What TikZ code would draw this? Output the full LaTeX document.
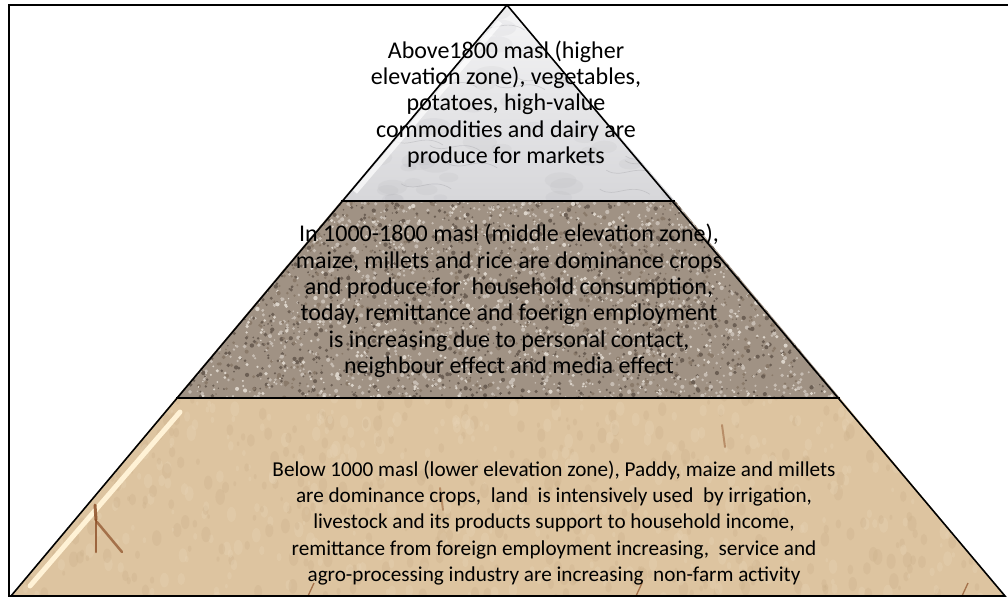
\documentclass[tikz,border=0pt]{standalone}
\usepackage{fontspec}
\setmainfont{Carlito}
\definecolor{marbleA}{RGB}{246,246,247}
\definecolor{marbleB}{RGB}{214,214,217}
\definecolor{marbleC}{RGB}{150,150,155}
\definecolor{gravelBase}{RGB}{160,146,132}
\definecolor{gravA}{RGB}{108,95,84}
\definecolor{gravB}{RGB}{198,188,178}
\definecolor{gravC}{RGB}{138,122,106}
\definecolor{gravD}{RGB}{220,212,202}
\definecolor{sandBase}{RGB}{221,196,160}
\definecolor{sandA}{RGB}{205,178,140}
\definecolor{sandB}{RGB}{232,212,182}
\definecolor{sandMark}{RGB}{140,78,38}
\definecolor{sandLight}{RGB}{255,242,214}
\pgfmathdeclarerandomlist{gravel}{{gravA}{gravB}{gravC}{gravD}{gravA}{gravB}}
\pgfmathdeclarerandomlist{sand}{{sandA}{sandB}}
\begin{document}
\begin{tikzpicture}[x=1pt,y=-1pt,
  tiertext/.style={align=center, font=\fontsize{24}{26.4}\selectfont, text=black, inner sep=0pt},
  basetext/.style={tiertext, font=\fontsize{21.2}{26.3}\selectfont},
  edge/.style={line width=1.6pt, black},
  frame/.style={line width=2.4pt, black}]
\useasboundingbox (0,0) rectangle (1008,598);
\pgfmathsetseed{7}
% corner points of the pyramid and the two tier boundaries
\coordinate (apex) at (507,5);
\coordinate (bl) at (11,596);
\coordinate (br) at (1005,596);
\coordinate (ml1) at (341,201);
\coordinate (mr1) at (675,201);
\coordinate (ml2) at (176,398);
\coordinate (mr2) at (840,398);

% top tier: marble
\begin{scope}
  \clip (apex) -- (mr1) -- (ml1) -- cycle;
  \shade[top color=marbleA, bottom color=marbleB] (330,0) rectangle (690,205);
  \foreach \i in {1,...,90}{
    \pgfmathsetmacro\px{rnd*360+330}
    \pgfmathsetmacro\py{rnd*200+5}
    \pgfmathsetmacro\rr{rnd*6+3}
    \fill[marbleC, opacity=0.08] (\px,\py) ellipse ({\rr*2} and \rr);
  }
  \foreach \i in {1,...,22}{
    \pgfmathsetmacro\px{rnd*320+340}
    \pgfmathsetmacro\py{rnd*185+15}
    \draw[marbleC, opacity=0.3, line width=0.7pt]
      (\px,\py) .. controls ({\px+15},{\py+10}) and ({\px+30},{\py-8}) .. ({\px+50},{\py+5});
  }
  \draw[white, line width=5pt, opacity=0.7] (500,22) -- (355,192);
\end{scope}

% middle tier: gravel
\begin{scope}
  \clip (ml1) -- (mr1) -- (mr2) -- (ml2) -- cycle;
  \fill[gravelBase] (170,195) rectangle (845,402);
  \foreach \i in {1,...,4500}{
    \pgfmathsetmacro\px{rnd*675+170}
    \pgfmathsetmacro\py{rnd*207+195}
    \pgfmathsetmacro\rr{rnd*1.5+0.7}
    \pgfmathrandomitem{\cc}{gravel}
    \fill[\cc] (\px,\py) circle (\rr);
  }
\end{scope}

% bottom tier: sand
\begin{scope}
  \clip (ml2) -- (mr2) -- (br) -- (bl) -- cycle;
  \fill[sandBase] (0,395) rectangle (1008,600);
  \foreach \i in {1,...,900}{
    \pgfmathsetmacro\px{rnd*1000+5}
    \pgfmathsetmacro\py{rnd*205+395}
    \pgfmathsetmacro\rr{rnd*6+2}
    \pgfmathrandomitem{\cc}{sand}
    \fill[\cc, opacity=0.35] (\px,\py) ellipse ({\rr*0.6} and \rr);
  }
  \draw[sandLight, line width=5pt, line cap=round] (180,412) -- (30,586);
  % brown marks in the sand
  \draw[sandMark, line width=3pt, line cap=round, opacity=0.85] (95,505) -- (96,520);
  \draw[sandMark, line width=2.5pt, line cap=round, opacity=0.8] (96,520) -- (96,552);
  \draw[sandMark, line width=2.5pt, line cap=round, opacity=0.7] (97,522) -- (122,552);
  \foreach \xx in {308,636,962}{
    \draw[sandMark, line width=1.3pt, opacity=0.7] (\xx,596) -- ({\xx+6},583);
  }
  \draw[sandMark, line width=2pt, line cap=round, opacity=0.45] (440,488) -- (443,510);
  \draw[sandMark, line width=2pt, line cap=round, opacity=0.45] (722,425) -- (725,447);
\end{scope}

% outline of the pyramid and its tiers
\draw[edge] (apex) -- (br) -- (bl) -- cycle;
\draw[edge] (ml1) -- (mr1);
\draw[edge] (ml2) -- (mr2);

% frame
\draw[frame] (1008,5) -- (9,5) -- (9,596) -- (1005,596);

% tier texts
\node[tiertext] (top) at (506,104) {Above1800 masl (higher\\elevation zone), vegetables,\\potatoes, high-value\\commodities and dairy are\\produce for markets};
\node[tiertext] (mid) at (509,301) {In 1000-1800 masl (middle elevation zone),\\maize, millets and rice are dominance crops\\and produce for\ \ household consumption,\\today, remittance and foerign employment\\is increasing due to personal contact,\\neighbour effect and media effect};
\node[basetext] (low) at (554,523) {Below 1000 masl (lower elevation zone), Paddy, maize and millets\\are dominance crops,\ \ land\ \ is intensively used\ \ by irrigation,\\livestock and its products support to household income,\\remittance from foreign employment increasing,\ \ service and\\agro-processing industry are increasing\ \ non-farm activity};
\end{tikzpicture}
\end{document}
